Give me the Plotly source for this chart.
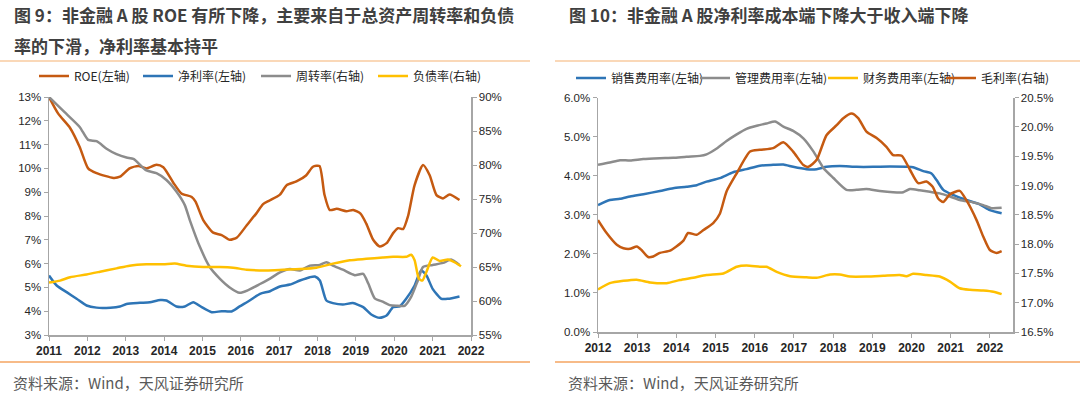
import plotly.graph_objects as go

W, H = 1080, 396

# ---------------- Left chart data ----------------
roe_x = [2011.0, 2011.24, 2011.55, 2011.8, 2012.02, 2012.24, 2012.68, 2012.85, 2013.1, 2013.33, 2013.54, 2013.8, 2013.98,
         2014.24, 2014.45, 2014.72, 2014.82, 2015.02, 2015.28, 2015.5, 2015.71, 2015.9, 2016.15, 2016.4, 2016.58, 2016.75,
         2017.02, 2017.2, 2017.45, 2017.7, 2017.88, 2018.05, 2018.18, 2018.32, 2018.5, 2018.75, 2018.93, 2019.12, 2019.27,
         2019.45, 2019.62, 2019.8, 2019.97, 2020.1, 2020.23, 2020.36, 2020.53, 2020.75, 2020.92, 2021.1, 2021.27, 2021.44, 2021.7]
roe_v = [13.0, 12.3, 11.7, 10.9, 10.0, 9.8, 9.6, 9.65, 10.0, 10.1, 10.0, 10.15, 10.05,
         9.4, 8.95, 8.8, 8.6, 7.83, 7.3, 7.2, 7.0, 7.1, 7.6, 8.1, 8.5, 8.65,
         8.9, 9.3, 9.45, 9.7, 10.07, 10.1, 8.9, 8.25, 8.3, 8.2, 8.25, 8.1, 7.68,
         7.0, 6.72, 6.86, 7.28, 7.49, 7.45, 8.0, 9.3, 10.14, 9.72, 8.88, 8.74, 8.9, 8.67]

nm_x = [2011.0, 2011.2, 2011.46, 2011.72, 2011.98, 2012.24, 2012.6, 2012.85, 2013.02, 2013.37, 2013.63, 2013.9, 2014.06,
        2014.32, 2014.54, 2014.76, 2014.98, 2015.24, 2015.5, 2015.76, 2015.97, 2016.23, 2016.5, 2016.76, 2017.02, 2017.28,
        2017.54, 2017.8, 2017.93, 2018.06, 2018.23, 2018.4, 2018.66, 2018.92, 2019.19, 2019.4, 2019.62, 2019.8, 2019.97,
        2020.14, 2020.31, 2020.53, 2020.7, 2020.84, 2021.0, 2021.23, 2021.4, 2021.7]
nm_v = [5.5, 5.08, 4.8, 4.52, 4.24, 4.15, 4.15, 4.2, 4.3, 4.35, 4.38, 4.47, 4.45,
        4.2, 4.2, 4.38, 4.17, 3.96, 4.0, 3.99, 4.2, 4.45, 4.73, 4.84, 5.04, 5.12,
        5.29, 5.43, 5.46, 5.29, 4.45, 4.34, 4.28, 4.34, 4.17, 3.86, 3.72, 3.82, 4.17,
        4.2, 4.52, 5.08, 5.71, 5.5, 4.94, 4.52, 4.52, 4.62]

to_x = [2011.0, 2011.4, 2011.8, 2012.02, 2012.24, 2012.5, 2012.76, 2013.02, 2013.2, 2013.54, 2013.8, 2014.06, 2014.32,
        2014.54, 2014.67, 2014.93, 2015.19, 2015.45, 2015.71, 2015.97, 2016.19, 2016.5, 2016.76, 2017.02, 2017.28, 2017.54,
        2017.8, 2018.06, 2018.23, 2018.4, 2018.66, 2018.97, 2019.19, 2019.32, 2019.49, 2019.7, 2019.88, 2020.05, 2020.27,
        2020.44, 2020.62, 2020.75, 2021.0, 2021.27, 2021.48, 2021.7]
to_v = [90, 87.8, 85.6, 83.7, 83.5, 82.4, 81.6, 81.1, 80.9, 79.2, 78.8, 77.8, 76.1,
        74.1, 71.9, 68.0, 65.0, 63.3, 62.0, 61.2, 61.6, 62.5, 63.3, 64.2, 64.7, 64.5,
        65.2, 65.3, 65.7, 65.2, 64.6, 63.8, 64.0, 62.6, 60.4, 59.9, 59.4, 59.3, 59.3,
        60.6, 63.1, 65.0, 65.3, 65.6, 66.1, 65.3]

dr_x = [2011.0, 2011.29, 2011.55, 2011.98, 2012.33, 2012.76, 2013.1, 2013.54, 2013.98, 2014.28, 2014.58, 2015.02, 2015.45,
        2015.8, 2016.15, 2016.67, 2017.1, 2017.54, 2017.97, 2018.4, 2018.84, 2019.27, 2019.7, 2019.97, 2020.31, 2020.44,
        2020.53, 2020.64, 2020.73, 2020.84, 2021.0, 2021.18, 2021.4, 2021.57, 2021.74]
dr_v = [62.7, 63.0, 63.5, 63.9, 64.3, 64.8, 65.2, 65.4, 65.4, 65.5, 65.2, 65.0, 65.0,
        64.9, 64.6, 64.5, 64.6, 64.7, 64.9, 65.5, 66.0, 66.2, 66.4, 66.5, 66.5, 66.8,
        66.0, 63.3, 63.0, 64.3, 66.4, 65.9, 66.1, 65.7, 65.1]

# ---------------- Right chart data ----------------
se_x = [2012.0, 2012.3, 2012.56, 2012.82, 2013.16, 2013.58, 2013.92, 2014.26, 2014.52, 2014.77, 2015.11, 2015.45, 2015.79,
        2016.13, 2016.47, 2016.73, 2016.98, 2017.32, 2017.58, 2017.83, 2018.17, 2018.6, 2019.02, 2019.45, 2019.87, 2020.04,
        2020.3, 2020.51, 2020.64, 2020.81, 2021.06, 2021.4, 2021.74, 2022.0, 2022.3]
se_v = [3.25, 3.38, 3.41, 3.47, 3.53, 3.61, 3.68, 3.72, 3.76, 3.85, 3.94, 4.09, 4.17,
        4.26, 4.28, 4.29, 4.23, 4.17, 4.17, 4.23, 4.25, 4.23, 4.23, 4.24, 4.23, 4.22,
        4.12, 4.06, 3.89, 3.64, 3.51, 3.38, 3.27, 3.12, 3.04]

ad_x = [2012.0, 2012.3, 2012.56, 2012.82, 2013.16, 2013.58, 2013.92, 2014.26, 2014.6, 2014.77, 2015.03, 2015.28, 2015.54,
        2015.79, 2016.05, 2016.3, 2016.52, 2016.73, 2016.98, 2017.24, 2017.5, 2017.76, 2018.0, 2018.34, 2018.6, 2018.85,
        2019.19, 2019.53, 2019.79, 2019.96, 2020.21, 2020.47, 2020.72, 2020.98, 2021.23, 2021.57, 2021.83, 2022.04, 2022.3]
ad_v = [4.28, 4.34, 4.40, 4.39, 4.43, 4.45, 4.46, 4.49, 4.51, 4.55, 4.70, 4.89, 5.06,
        5.20, 5.28, 5.34, 5.39, 5.26, 5.15, 4.96, 4.62, 4.19, 3.95, 3.64, 3.64, 3.66,
        3.61, 3.58, 3.58, 3.66, 3.63, 3.59, 3.55, 3.47, 3.38, 3.32, 3.25, 3.17, 3.18]

fe_x = [2012.0, 2012.3, 2012.65, 2012.99, 2013.33, 2013.75, 2014.09, 2014.43, 2014.77, 2015.2, 2015.54, 2015.79, 2016.13,
        2016.3, 2016.56, 2016.9, 2017.32, 2017.58, 2017.92, 2018.17, 2018.43, 2018.85, 2019.28, 2019.7, 2019.87, 2020.04,
        2020.38, 2020.72, 2020.98, 2021.23, 2021.49, 2021.83, 2022.09, 2022.3]
fe_v = [1.09, 1.25, 1.31, 1.34, 1.27, 1.25, 1.33, 1.39, 1.46, 1.50, 1.67, 1.70, 1.67,
        1.67, 1.54, 1.43, 1.40, 1.39, 1.47, 1.47, 1.42, 1.42, 1.44, 1.46, 1.43, 1.49,
        1.46, 1.42, 1.29, 1.12, 1.08, 1.06, 1.03, 0.97]

gm_x = [2012.0, 2012.22, 2012.48, 2012.65, 2012.82, 2012.99, 2013.11, 2013.28, 2013.41, 2013.58, 2013.84, 2014.0, 2014.18,
        2014.3, 2014.52, 2014.69, 2014.94, 2015.11, 2015.28, 2015.54, 2015.88, 2016.13, 2016.47, 2016.73, 2016.98, 2017.24,
        2017.37, 2017.58, 2017.83, 2018.09, 2018.26, 2018.47, 2018.64, 2018.85, 2019.11, 2019.36, 2019.53, 2019.75, 2019.96,
        2020.17, 2020.38, 2020.54, 2020.68, 2020.81, 2020.98, 2021.23, 2021.4, 2021.66, 2021.83, 2022.0, 2022.17, 2022.3]
gm_v = [18.41, 18.19, 17.99, 17.93, 17.92, 17.96, 17.90, 17.78, 17.79, 17.85, 17.89, 17.96, 18.06,
        18.19, 18.16, 18.24, 18.36, 18.52, 18.9, 19.21, 19.58, 19.61, 19.64, 19.74, 19.58, 19.35,
        19.32, 19.44, 19.86, 20.03, 20.15, 20.23, 20.15, 19.92, 19.81, 19.66, 19.52, 19.51, 19.27,
        19.04, 19.07, 18.98, 18.78, 18.72, 18.85, 18.91, 18.75, 18.41, 18.13, 17.90, 17.85, 17.88]

left_years = list(range(2011, 2023))
right_years = list(range(2012, 2023))

# ---------------- Styles ----------------
ORANGE = "#C55A11"
BLUE = "#2E75B6"
GRAY = "#8C8C8C"
YELLOW = "#FFC000"
AXIS = "#A6A6A6"
TXT = "#262626"
CJK = "Noto Sans CJK SC, Microsoft YaHei, sans-serif"
LAT = "Liberation Sans, Arial, sans-serif"
LW = 2.5

fig = go.Figure()

def add(x, y, name, color, xa, ya, legend, lw):
    fig.add_trace(go.Scatter(x=x, y=y, name=name, mode="lines",
                             line=dict(color=color, width=LW, shape="spline", smoothing=0.6),
                             xaxis=xa, yaxis=ya, legend=legend, legendwidth=lw, hoverinfo="skip"))

add(roe_x, roe_v, "ROE(左轴)", ORANGE, "x", "y", "legend", 59)
add(nm_x, nm_v, "净利率(左轴)", BLUE, "x", "y", "legend", 73)
add(to_x, to_v, "周转率(右轴)", GRAY, "x", "y2", "legend", 72)
add(dr_x, dr_v, "负债率(右轴)", YELLOW, "x", "y2", "legend", 72)

add(se_x, se_v, "销售费用率(左轴)", BLUE, "x2", "y3", "legend2", 79)
add(ad_x, ad_v, "管理费用率(左轴)", GRAY, "x2", "y3", "legend2", 83)
add(fe_x, fe_v, "财务费用率(左轴)", YELLOW, "x2", "y3", "legend2", 73)
add(gm_x, gm_v, "毛利率(右轴)", ORANGE, "x2", "y4", "legend2", 73)

def px_x(p):
    return p / W

def px_y(p):
    return 1 - p / H

tick_font = dict(family=LAT, size=11.5, color=TXT)
xtick_font = dict(family=LAT, size=12, color=TXT, weight="bold")

common_axis = dict(showline=True, linecolor=AXIS, linewidth=1.5, showgrid=False, zeroline=False,
                   ticks="outside", ticklen=4, tickcolor=AXIS, tickwidth=1, automargin=False)

L_dom_y = [px_y(335), px_y(97)]
R_dom_y = [px_y(332), px_y(97.7)]

fig.update_layout(
    template="none",
    width=W, height=H,
    margin=dict(l=0, r=0, t=0, b=0, autoexpand=False),
    paper_bgcolor="white", plot_bgcolor="white",
    showlegend=True,
    xaxis=dict(domain=[px_x(49), px_x(471)], range=[2011, 2022], tickvals=left_years,
               ticktext=[str(y) for y in left_years], tickfont=xtick_font, anchor="y", **common_axis),
    yaxis=dict(domain=L_dom_y, range=[3, 13], dtick=1, ticksuffix="%", tickfont=tick_font,
               anchor="x", **common_axis),
    yaxis2=dict(range=[55, 90], dtick=5, ticksuffix="%", tickfont=tick_font, overlaying="y",
                side="right", anchor="x", **common_axis),
    xaxis2=dict(domain=[px_x(598), px_x(1013)], range=[2012, 2022.59], tickvals=right_years,
                ticktext=[str(y) for y in right_years], tickfont=xtick_font, anchor="y3", **common_axis),
    yaxis3=dict(domain=R_dom_y, range=[0, 6], dtick=1, tickformat=".1f", ticksuffix="%",
                tickfont=tick_font, anchor="x2", **common_axis),
    yaxis4=dict(range=[16.5, 20.5], dtick=0.5, tickformat=".1f", ticksuffix="%", tickfont=tick_font,
                overlaying="y3", side="right", anchor="x2", **common_axis),
    legend=dict(orientation="h", x=px_x(34), xanchor="left", y=px_y(76), yanchor="middle",
                font=dict(family=CJK, size=12, color=TXT), itemwidth=30, tracegroupgap=0,
                bgcolor="rgba(0,0,0,0)", traceorder="normal"),
    legend2=dict(orientation="h", x=px_x(571), xanchor="left", y=px_y(78), yanchor="middle",
                 font=dict(family=CJK, size=12, color=TXT), itemwidth=30, tracegroupgap=0,
                 bgcolor="rgba(0,0,0,0)", traceorder="normal"),
)

# Titles
title_font = dict(family=CJK, size=17, color="#404040", weight="bold")
fig.add_annotation(text="图 9：非金融 A 股 ROE 有所下降，主要来自于总资产周转率和负债",
                   x=px_x(12), y=px_y(15), xref="paper", yref="paper", xanchor="left", yanchor="middle",
                   showarrow=False, font=title_font)
fig.add_annotation(text="率的下滑，净利率基本持平",
                   x=px_x(12), y=px_y(45), xref="paper", yref="paper", xanchor="left", yanchor="middle",
                   showarrow=False, font=title_font)
fig.add_annotation(text="图 10：非金融 A 股净利率成本端下降大于收入端下降",
                   x=px_x(567), y=px_y(15), xref="paper", yref="paper", xanchor="left", yanchor="middle",
                   showarrow=False, font=title_font)

# Sources
src_font = dict(family=CJK, size=15, color="#595959")
fig.add_annotation(text="资料来源：Wind，天风证券研究所", x=px_x(11), y=px_y(382), xref="paper", yref="paper",
                   xanchor="left", yanchor="middle", showarrow=False, font=src_font)
fig.add_annotation(text="资料来源：Wind，天风证券研究所", x=px_x(566), y=px_y(382), xref="paper", yref="paper",
                   xanchor="left", yanchor="middle", showarrow=False, font=src_font)

# Separator lines
for (x0, x1) in [(0, 530), (555, 1080)]:
    fig.add_shape(type="line", xref="paper", yref="paper", x0=px_x(x0), x1=px_x(x1), y0=px_y(61), y1=px_y(61),
                  line=dict(color="#F8CBA0", width=1.5))
    fig.add_shape(type="line", xref="paper", yref="paper", x0=px_x(x0), x1=px_x(x1), y0=px_y(362), y1=px_y(362),
                  line=dict(color="#F4A460", width=1.5))

fig.write_html("out.html", config={"displayModeBar": False, "staticPlot": True},
               post_script="document.body.style.margin='0px';document.body.style.overflow='hidden';")
